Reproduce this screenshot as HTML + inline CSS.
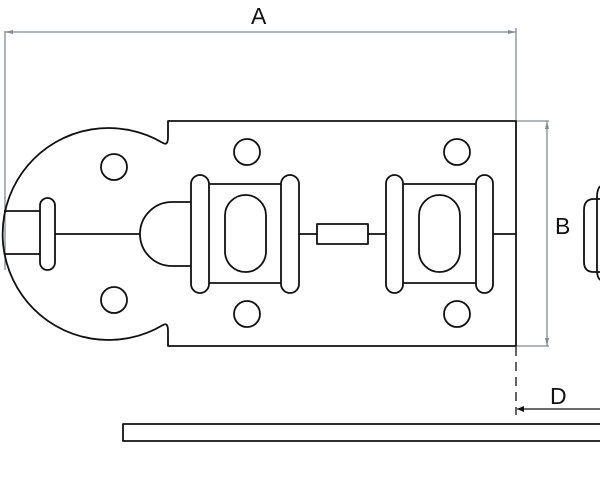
<!DOCTYPE html>
<html><head><meta charset="utf-8"><style>html,body{margin:0;padding:0;background:#fff;}svg{display:block}</style></head>
<body>
<svg width="600" height="494" viewBox="0 0 600 494" xmlns="http://www.w3.org/2000/svg">
<g stroke="#7f8c94" stroke-width="1.3" fill="none">
  <line x1="5" y1="32" x2="516" y2="32"/>
  <line x1="5" y1="31" x2="5" y2="270"/>
  <line x1="516" y1="28" x2="516" y2="121"/>
  <line x1="547" y1="121" x2="547" y2="346"/>
  <line x1="516" y1="121" x2="549" y2="121"/>
  <line x1="516" y1="346" x2="549" y2="346"/>
</g>
<g fill="#7f8c94">
  <path d="M5 32 l8 -2 v4z"/><path d="M516 32 l-8 -2 v4z"/>
  <path d="M547 121 l-2 8 h4z"/><path d="M547 346 l-2 -8 h4z"/>
</g>
<g font-family="Liberation Sans, sans-serif" font-size="23" fill="#111">
  <text x="251" y="24">A</text>
  <text x="555" y="234">B</text>
  <text x="550" y="404">D</text>
</g>
<g stroke="#111" stroke-width="1.8" fill="none" stroke-linejoin="round">
  <!-- plate outline -->
  <path d="M516 121 H168 V137 Q168 146 163 143 A106 106 0 1 0 163 325 Q168 322 168 331 V346 H516 Z"/>
  <!-- holes -->
  <circle cx="114" cy="167" r="13"/><circle cx="114" cy="300" r="13"/>
  <circle cx="247" cy="152" r="13"/><circle cx="247" cy="314" r="13"/>
  <circle cx="457" cy="152" r="13"/><circle cx="457" cy="314" r="13"/>
  <!-- left stub -->
  <path d="M4 211 H40 M4 254 H40"/>
  <rect x="40" y="198" width="15" height="72" rx="7.5"/>
  <line x1="55" y1="234" x2="140" y2="234"/>
  <!-- dome -->
  <path d="M191 202 H172 A32 32 0 0 0 172 266 H191"/>
  <!-- left unit -->
  <rect x="191" y="175" width="18" height="118" rx="9"/>
  <rect x="281" y="175" width="18" height="118" rx="9"/>
  <path d="M209 184 H281 M209 283 H281"/>
  <rect x="225" y="195" width="41" height="77" rx="20.5"/>
  <!-- connector -->
  <line x1="299" y1="234" x2="317" y2="234"/>
  <rect x="317" y="224" width="51" height="20"/>
  <line x1="368" y1="234" x2="386" y2="234"/>
  <!-- right unit -->
  <rect x="386" y="175" width="17" height="118" rx="8.5"/>
  <rect x="476" y="175" width="17" height="118" rx="8.5"/>
  <path d="M403 184 H476 M403 283 H476"/>
  <rect x="419" y="195" width="41" height="77" rx="20.5"/>
  <line x1="493" y1="234" x2="516" y2="234"/>
  <!-- dashed -->
  <line x1="516" y1="347" x2="516" y2="415" stroke-width="1.3" stroke-dasharray="9,6"/>
  <!-- D arrow -->
  <line x1="517" y1="409" x2="600" y2="409" stroke-width="1.3"/>
  <!-- bottom plate -->
  <path d="M600 424 H123 V441 H600"/>
  <!-- right partial -->
  <path d="M600 199 H594 Q584 199 584 210 V262 Q584 272 594 272 H600"/>
  <path d="M600 186 Q597 190 597 197 V270 Q597 277 600 280"/>
</g>
<path d="M517 409 l7 -3 v6z" fill="#111"/>
</svg>
</body></html>
